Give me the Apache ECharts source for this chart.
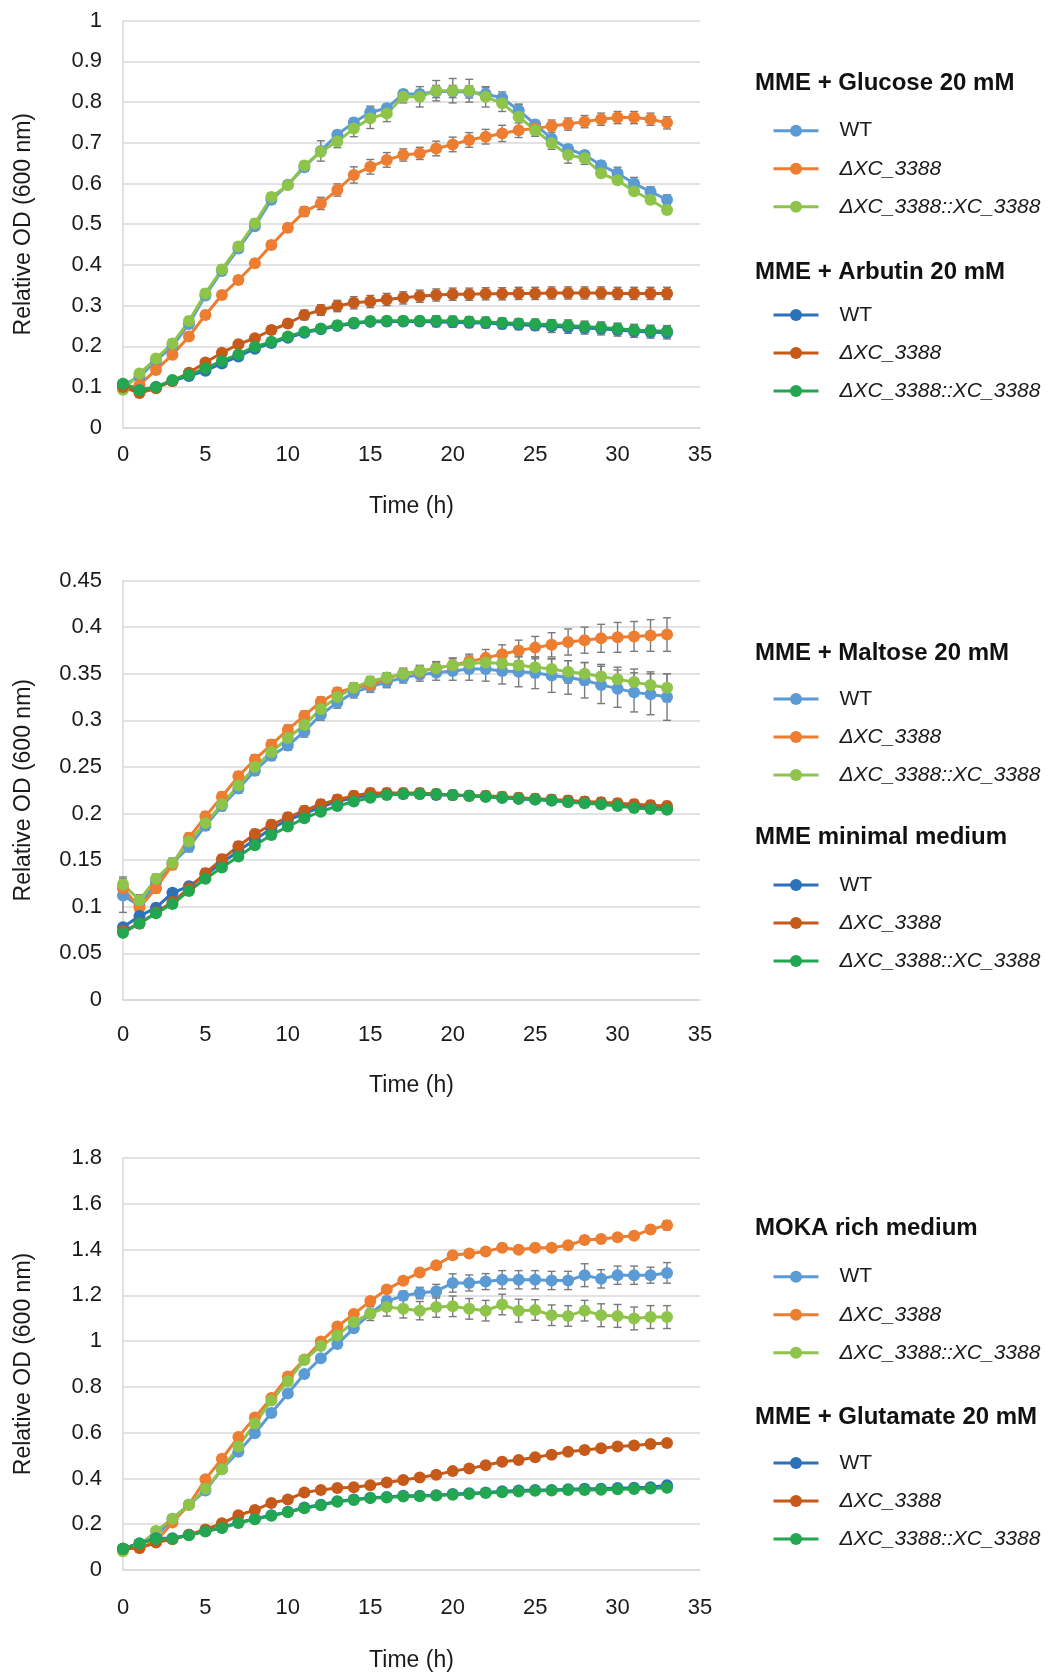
<!DOCTYPE html>
<html>
<head>
<meta charset="utf-8">
<script src="https://cdn.jsdelivr.net/npm/echarts@6/dist/echarts.min.js"></script>
<style>
html,body{margin:0;padding:0;background:#fff;}
#chart{width:1048px;height:1674px;}
</style>
</head>
<body>
<div id="chart"></div>
<script>
// ---------- data ----------
const hours = [0,1,2,3,4,5,6,7,8,9,10,11,12,13,14,15,16,17,18,19,20,21,22,23,24,25,26,27,28,29,30,31,32,33];
const xTicks = [0,5,10,15,20,25,30,35];
const strainNames = ['WT','ΔXC_3388','ΔXC_3388::XC_3388'];
const panelTitles = [
  ['MME + Glucose 20 mM','MME + Arbutin 20 mM'],
  ['MME + Maltose 20 mM','MME minimal medium'],
  ['MOKA rich medium','MME + Glutamate 20 mM']
];
const yMax = [1, 0.45, 1.8];
const yStep = [0.1, 0.05, 0.2];

// Panel 1: Glucose
const glucoseWT    = [0.105,0.125,0.165,0.200,0.255,0.325,0.385,0.440,0.495,0.560,0.597,0.640,0.680,0.720,0.750,0.775,0.785,0.820,0.820,0.826,0.826,0.825,0.820,0.810,0.780,0.745,0.710,0.685,0.670,0.645,0.625,0.600,0.580,0.560];
const glucoseDelta = [0.095,0.105,0.142,0.179,0.224,0.277,0.326,0.363,0.404,0.449,0.491,0.531,0.551,0.584,0.621,0.641,0.658,0.670,0.674,0.686,0.696,0.707,0.715,0.723,0.731,0.735,0.741,0.746,0.752,0.758,0.762,0.762,0.758,0.749];
const glucoseComp  = [0.093,0.133,0.170,0.207,0.262,0.330,0.389,0.445,0.502,0.567,0.596,0.644,0.678,0.703,0.735,0.760,0.772,0.813,0.813,0.828,0.828,0.828,0.813,0.797,0.764,0.731,0.699,0.670,0.662,0.625,0.608,0.581,0.560,0.535];
const glucoseWTErr    = [0.005,0.005,0.005,0.010,0.010,0.010,0.010,0.010,0.010,0.010,0.010,0.010,0.025,0.010,0.010,0.015,0.010,0.010,0.010,0.015,0.015,0.015,0.015,0.015,0.015,0.010,0.010,0.010,0.010,0.010,0.015,0.015,0.012,0.012];
const glucoseDeltaErr = [0.005,0.005,0.008,0.008,0.008,0.010,0.010,0.010,0.010,0.010,0.010,0.012,0.015,0.015,0.020,0.018,0.018,0.015,0.015,0.018,0.018,0.018,0.018,0.020,0.018,0.015,0.015,0.015,0.015,0.015,0.015,0.015,0.015,0.015];
const glucoseCompErr  = [0.005,0.008,0.008,0.010,0.010,0.010,0.010,0.010,0.010,0.010,0.010,0.010,0.010,0.015,0.020,0.025,0.020,0.015,0.025,0.025,0.030,0.028,0.025,0.020,0.030,0.015,0.015,0.020,0.015,0.010,0.010,0.010,0.010,0.010];
// Panel 1: Arbutin
const arbutinWT    = [0.106,0.092,0.100,0.115,0.127,0.140,0.158,0.175,0.194,0.208,0.221,0.233,0.242,0.250,0.256,0.260,0.261,0.261,0.261,0.260,0.259,0.258,0.257,0.255,0.253,0.251,0.249,0.247,0.245,0.243,0.240,0.237,0.235,0.233];
const arbutinDelta = [0.100,0.085,0.097,0.115,0.135,0.160,0.184,0.205,0.220,0.240,0.256,0.277,0.289,0.299,0.307,0.310,0.315,0.319,0.323,0.326,0.328,0.328,0.329,0.329,0.330,0.330,0.331,0.331,0.331,0.331,0.330,0.330,0.330,0.330];
const arbutinComp  = [0.108,0.092,0.100,0.117,0.130,0.146,0.164,0.180,0.199,0.211,0.224,0.236,0.244,0.252,0.258,0.262,0.263,0.263,0.263,0.263,0.262,0.261,0.260,0.258,0.256,0.255,0.253,0.251,0.248,0.246,0.243,0.240,0.238,0.237];
const arbutinWTErr    = [0.005,0.005,0.005,0.005,0.005,0.008,0.008,0.008,0.008,0.008,0.008,0.008,0.008,0.010,0.010,0.010,0.010,0.010,0.010,0.012,0.012,0.012,0.012,0.012,0.012,0.012,0.015,0.015,0.015,0.015,0.015,0.015,0.015,0.015];
const arbutinDeltaErr = [0.005,0.005,0.005,0.005,0.006,0.008,0.008,0.008,0.008,0.010,0.010,0.012,0.013,0.014,0.015,0.015,0.015,0.015,0.015,0.015,0.015,0.015,0.015,0.015,0.015,0.015,0.015,0.015,0.015,0.015,0.015,0.015,0.015,0.015];
const arbutinCompErr  = [0.005,0.005,0.005,0.005,0.005,0.008,0.008,0.008,0.008,0.008,0.008,0.008,0.008,0.010,0.010,0.010,0.010,0.010,0.010,0.012,0.012,0.012,0.012,0.012,0.012,0.012,0.012,0.014,0.014,0.014,0.014,0.014,0.014,0.014];

// Panel 2: Maltose
const maltoseWT    = [0.112,0.101,0.126,0.147,0.164,0.187,0.208,0.227,0.246,0.262,0.273,0.288,0.306,0.319,0.330,0.336,0.341,0.346,0.349,0.351,0.353,0.355,0.355,0.353,0.352,0.351,0.348,0.346,0.343,0.338,0.334,0.330,0.328,0.325];
const maltoseDelta = [0.120,0.099,0.120,0.145,0.174,0.197,0.218,0.240,0.258,0.274,0.290,0.305,0.320,0.330,0.335,0.338,0.345,0.350,0.352,0.356,0.359,0.363,0.367,0.371,0.375,0.378,0.381,0.384,0.386,0.388,0.389,0.390,0.391,0.392];
const maltoseComp  = [0.124,0.107,0.130,0.147,0.170,0.190,0.210,0.230,0.250,0.266,0.281,0.295,0.312,0.325,0.335,0.342,0.346,0.350,0.353,0.356,0.359,0.361,0.362,0.361,0.359,0.357,0.355,0.352,0.350,0.347,0.344,0.341,0.338,0.335];
const maltoseWTErr    = [0.018,0.010,0.005,0.005,0.005,0.005,0.005,0.005,0.005,0.005,0.005,0.006,0.006,0.006,0.006,0.006,0.006,0.006,0.007,0.008,0.010,0.012,0.013,0.014,0.016,0.017,0.018,0.018,0.019,0.020,0.020,0.021,0.022,0.025];
const maltoseDeltaErr = [0.008,0.005,0.005,0.005,0.005,0.005,0.005,0.005,0.005,0.005,0.005,0.005,0.005,0.005,0.005,0.006,0.006,0.006,0.006,0.007,0.008,0.008,0.009,0.010,0.011,0.012,0.013,0.014,0.014,0.015,0.016,0.016,0.017,0.018];
const maltoseCompErr  = [0.008,0.006,0.005,0.005,0.005,0.005,0.005,0.005,0.005,0.005,0.005,0.005,0.005,0.005,0.005,0.005,0.005,0.005,0.006,0.006,0.007,0.008,0.008,0.009,0.010,0.011,0.011,0.012,0.012,0.013,0.013,0.014,0.014,0.015];
// Panel 2: minimal medium
const minimalWT    = [0.078,0.090,0.099,0.115,0.122,0.134,0.147,0.160,0.172,0.184,0.193,0.200,0.207,0.213,0.217,0.220,0.221,0.221,0.221,0.220,0.220,0.219,0.218,0.217,0.216,0.215,0.214,0.213,0.212,0.211,0.209,0.208,0.207,0.206];
const minimalDelta = [0.074,0.082,0.094,0.105,0.120,0.136,0.151,0.165,0.178,0.188,0.196,0.203,0.210,0.215,0.219,0.222,0.222,0.222,0.222,0.221,0.220,0.219,0.219,0.218,0.217,0.216,0.215,0.214,0.213,0.212,0.211,0.210,0.209,0.208];
const minimalComp  = [0.072,0.082,0.093,0.103,0.117,0.130,0.142,0.154,0.166,0.177,0.186,0.195,0.202,0.208,0.213,0.217,0.220,0.221,0.221,0.221,0.220,0.219,0.218,0.217,0.216,0.215,0.214,0.212,0.211,0.210,0.208,0.206,0.205,0.204];
const minimalWTErr    = [0.004,0.004,0.004,0.004,0.004,0.004,0.004,0.004,0.004,0.004,0.004,0.004,0.004,0.004,0.004,0.004,0.004,0.004,0.004,0.004,0.004,0.004,0.004,0.004,0.004,0.004,0.004,0.004,0.004,0.004,0.004,0.004,0.004,0.004];
const minimalDeltaErr = [0.004,0.005,0.005,0.005,0.005,0.005,0.005,0.005,0.005,0.005,0.005,0.005,0.005,0.005,0.005,0.005,0.005,0.005,0.005,0.005,0.005,0.005,0.005,0.005,0.005,0.005,0.005,0.005,0.005,0.005,0.005,0.005,0.005,0.005];
const minimalCompErr  = [0.004,0.004,0.004,0.004,0.004,0.004,0.004,0.004,0.004,0.004,0.004,0.004,0.004,0.004,0.004,0.004,0.004,0.004,0.004,0.004,0.004,0.004,0.004,0.004,0.004,0.004,0.004,0.004,0.004,0.004,0.004,0.004,0.004,0.004];

// Panel 3: MOKA
const mokaWT    = [0.093,0.116,0.146,0.224,0.285,0.347,0.440,0.517,0.597,0.686,0.771,0.856,0.925,0.987,1.056,1.120,1.175,1.198,1.210,1.218,1.254,1.254,1.260,1.268,1.268,1.268,1.265,1.265,1.288,1.272,1.288,1.288,1.288,1.298];
const mokaDelta = [0.093,0.096,0.123,0.208,0.285,0.396,0.486,0.581,0.666,0.752,0.845,0.920,0.998,1.064,1.118,1.175,1.226,1.264,1.300,1.331,1.375,1.383,1.392,1.408,1.399,1.408,1.408,1.419,1.442,1.446,1.454,1.460,1.488,1.506];
const mokaComp  = [0.082,0.108,0.170,0.224,0.285,0.355,0.440,0.540,0.640,0.740,0.825,0.917,0.979,1.025,1.084,1.120,1.149,1.141,1.133,1.149,1.152,1.141,1.133,1.160,1.133,1.136,1.113,1.110,1.133,1.113,1.110,1.099,1.105,1.105];
const mokaWTErr    = [0.005,0.005,0.010,0.010,0.010,0.010,0.010,0.010,0.010,0.010,0.010,0.010,0.010,0.010,0.015,0.020,0.020,0.020,0.025,0.030,0.040,0.035,0.035,0.040,0.040,0.040,0.040,0.040,0.050,0.040,0.040,0.040,0.035,0.045];
const mokaDeltaErr = [0.005,0.005,0.010,0.010,0.010,0.010,0.010,0.010,0.010,0.010,0.010,0.012,0.012,0.012,0.015,0.015,0.015,0.015,0.015,0.015,0.015,0.015,0.015,0.015,0.015,0.015,0.015,0.015,0.015,0.015,0.015,0.015,0.015,0.020];
const mokaCompErr  = [0.005,0.005,0.010,0.010,0.010,0.010,0.010,0.010,0.010,0.010,0.010,0.010,0.015,0.015,0.020,0.030,0.040,0.040,0.040,0.045,0.045,0.045,0.045,0.045,0.050,0.045,0.045,0.045,0.045,0.050,0.050,0.050,0.050,0.050];
// Panel 3: Glutamate
const glutamateWT    = [0.093,0.116,0.139,0.139,0.154,0.170,0.185,0.208,0.224,0.239,0.254,0.273,0.285,0.300,0.308,0.316,0.319,0.324,0.324,0.327,0.332,0.335,0.339,0.344,0.347,0.350,0.350,0.353,0.355,0.355,0.358,0.359,0.362,0.370];
const glutamateDelta = [0.093,0.096,0.120,0.134,0.154,0.177,0.204,0.239,0.262,0.293,0.308,0.339,0.350,0.358,0.362,0.370,0.382,0.393,0.404,0.416,0.432,0.443,0.458,0.473,0.481,0.493,0.504,0.517,0.524,0.532,0.540,0.544,0.550,0.555];
const glutamateComp  = [0.093,0.116,0.135,0.137,0.152,0.168,0.183,0.205,0.222,0.237,0.252,0.270,0.283,0.298,0.306,0.314,0.317,0.321,0.322,0.325,0.329,0.332,0.336,0.340,0.343,0.346,0.347,0.349,0.350,0.351,0.353,0.354,0.356,0.359];
const glutamateWTErr    = [0.008,0.008,0.008,0.008,0.008,0.008,0.008,0.008,0.008,0.008,0.008,0.008,0.008,0.008,0.008,0.008,0.008,0.008,0.008,0.008,0.008,0.008,0.008,0.008,0.008,0.008,0.008,0.008,0.008,0.008,0.008,0.008,0.008,0.010];
const glutamateDeltaErr = [0.008,0.008,0.008,0.008,0.008,0.008,0.008,0.008,0.008,0.008,0.008,0.008,0.008,0.008,0.008,0.008,0.008,0.008,0.008,0.008,0.008,0.008,0.008,0.008,0.008,0.008,0.008,0.008,0.008,0.008,0.008,0.008,0.008,0.010];
const glutamateCompErr  = [0.008,0.008,0.008,0.008,0.008,0.008,0.008,0.008,0.008,0.008,0.008,0.008,0.008,0.008,0.008,0.008,0.008,0.008,0.008,0.008,0.008,0.008,0.008,0.008,0.008,0.008,0.008,0.008,0.008,0.008,0.008,0.008,0.008,0.010];

// ---------- styling / layout ----------
const colorsA = ['#5B9BD5','#ED7D31','#8DC449'];
const colorsB = ['#2A72BA','#C55A1B','#22A650'];
const FONT = '"Liberation Sans", Arial, sans-serif';

const panels = [
  { groups: [[glucoseWT,glucoseDelta,glucoseComp],[arbutinWT,arbutinDelta,arbutinComp]],
    errs:   [[glucoseWTErr,glucoseDeltaErr,glucoseCompErr],[arbutinWTErr,arbutinDeltaErr,arbutinCompErr]],
    top: 20.7, height: 407, labelMargin: 16, nameGap: 67,
    titleTops: [71, 260], legendTops: [119.7, 304] },
  { groups: [[maltoseWT,maltoseDelta,maltoseComp],[minimalWT,minimalDelta,minimalComp]],
    errs:   [[maltoseWTErr,maltoseDeltaErr,maltoseCompErr],[minimalWTErr,minimalDeltaErr,minimalCompErr]],
    top: 580.5, height: 419.5, labelMargin: 24, nameGap: 74,
    titleTops: [641.5, 825], legendTops: [688, 874] },
  { groups: [[mokaWT,mokaDelta,mokaComp],[glutamateWT,glutamateDelta,glutamateComp]],
    errs:   [[mokaWTErr,mokaDeltaErr,mokaCompErr],[glutamateWTErr,glutamateDeltaErr,glutamateCompErr]],
    top: 1158, height: 412, labelMargin: 27, nameGap: 79,
    titleTops: [1216.5, 1405], legendTops: [1265.7, 1452] }
];

const grids = [], xAxes = [], yAxes = [], series = [], titles = [], legends = [];
const gridColor = '#D9D9D9';

function errorRender(params, api) {
  const x = api.value(0), lo = api.value(1), hi = api.value(2);
  const p1 = api.coord([x, lo]);
  const p2 = api.coord([x, hi]);
  const cap = 4;
  const st = { stroke: '#7A7A7A', lineWidth: 1.4 };
  return { type: 'group', children: [
    { type: 'line', shape: { x1: p1[0], y1: p1[1], x2: p2[0], y2: p2[1] }, style: st },
    { type: 'line', shape: { x1: p1[0]-cap, y1: p1[1], x2: p1[0]+cap, y2: p1[1] }, style: st },
    { type: 'line', shape: { x1: p2[0]-cap, y1: p2[1], x2: p2[0]+cap, y2: p2[1] }, style: st }
  ]};
}

panels.forEach((p, pi) => {
  grids.push({ left: 123, width: 577, top: p.top, height: p.height, containLabel: false });
  xAxes.push({
    type: 'value', gridIndex: pi, min: xTicks[0], max: xTicks[xTicks.length-1], interval: 5,
    axisLine: { show: true, lineStyle: { color: gridColor, width: 1.5 } },
    axisTick: { show: false }, splitLine: { show: false },
    axisLabel: { fontSize: 22, color: '#1a1a1a', fontFamily: FONT, margin: p.labelMargin },
    name: 'Time (h)', nameLocation: 'middle', nameGap: p.nameGap,
    nameTextStyle: { fontSize: 23, color: '#1a1a1a', fontFamily: FONT }
  });
  yAxes.push({
    type: 'value', gridIndex: pi, min: 0, max: yMax[pi], interval: yStep[pi],
    axisLine: { show: true, lineStyle: { color: gridColor, width: 1.5 } },
    axisTick: { show: false },
    splitLine: { show: true, lineStyle: { color: gridColor, width: 1.5 } },
    axisLabel: { fontSize: 22, color: '#1a1a1a', fontFamily: FONT, margin: 21 },
    name: 'Relative OD (600 nm)', nameLocation: 'middle', nameGap: 88,
    nameTextStyle: { fontSize: 23, color: '#1a1a1a', fontFamily: FONT }
  });
  p.groups.forEach((grp, gi) => {
    const cols = gi === 0 ? colorsA : colorsB;
    grp.forEach((vals, si) => {
      const err = p.errs[gi][si];
      series.push({
        type: 'custom', xAxisIndex: pi, yAxisIndex: pi, silent: true, z: 1,
        renderItem: errorRender,
        data: hours.map((h, k) => [h, vals[k] - err[k], vals[k] + err[k]])
      });
    });
    const names = [];
    grp.forEach((vals, si) => {
      const nm = panelTitles[pi][gi] + '|' + strainNames[si];
      names.push(nm);
      series.push({
        name: nm, type: 'line', xAxisIndex: pi, yAxisIndex: pi, z: 2,
        symbol: 'circle', symbolSize: 12, showSymbol: true,
        lineStyle: { color: cols[si], width: 3 },
        itemStyle: { color: cols[si] },
        data: hours.map((h, k) => [h, vals[k]])
      });
    });
    titles.push({
      text: panelTitles[pi][gi], left: 755, top: p.titleTops[gi], padding: 0,
      textStyle: { fontSize: 24, fontWeight: 'bold', color: '#111', fontFamily: FONT }
    });
    legends.push({
      data: names, orient: 'vertical', left: 772, top: p.legendTops[gi], padding: 0,
      itemWidth: 45, itemHeight: 15, itemGap: 16, selectedMode: false,
      lineStyle: { width: 3 },
      formatter: function (name) {
        const s = name.split('|')[1];
        return s === 'WT' ? '{n|' + s + '}' : '{i|' + s + '}';
      },
      textStyle: {
        fontSize: 21, color: '#1a1a1a', fontFamily: FONT, lineHeight: 22,
        rich: {
          n: { fontSize: 21, lineHeight: 22, fontFamily: FONT, color: '#1a1a1a', padding: [0,0,0,16] },
          i: { fontSize: 21, lineHeight: 22, fontFamily: FONT, color: '#1a1a1a', fontStyle: 'italic', padding: [0,0,0,16] }
        }
      }
    });
  });
});

const chart = echarts.init(document.getElementById('chart'), null, { renderer: 'canvas' });
chart.setOption({
  animation: false,
  backgroundColor: '#ffffff',
  textStyle: { fontFamily: FONT },
  title: titles,
  legend: legends,
  grid: grids,
  xAxis: xAxes,
  yAxis: yAxes,
  series: series
});
</script>
</body>
</html>
